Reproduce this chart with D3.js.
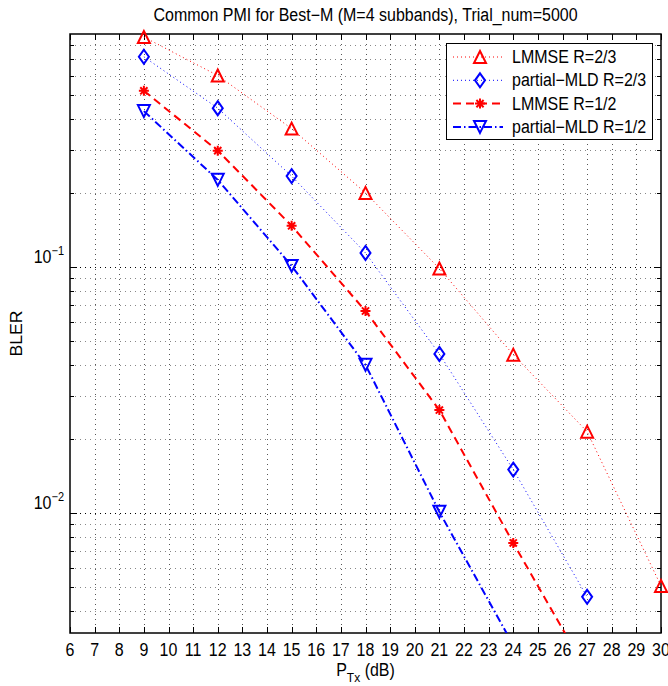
<!DOCTYPE html>
<html lang="en">
<head>
  <meta charset="UTF-8">
  <title>BLER vs PTx</title>
  <style>
    body { margin: 0; background: #fff; }
    svg text { font-family: "Liberation Sans", Arial, sans-serif; }
  </style>
</head>
<body>
  <div id="svg"></div>
</body>
<script src="https://cdn.jsdelivr.net/npm/d3@7"></script>
<script type="text/javascript">
  // 数据（从图上读出来的）
  const snr = [9, 12, 15, 18, 21, 24, 27, 30]
  const lmmse23 = [0.86, 0.60, 0.365, 0.200, 0.0985, 0.0440, 0.0214, 0.00505]
  const pmld23 = [0.715, 0.442, 0.234, 0.114, 0.0443, 0.0150, 0.00456]
  const lmmse12 = [0.52, 0.297, 0.147, 0.0662, 0.0262, 0.00755, 0.00226]
  const pmld12 = [0.430, 0.226, 0.101, 0.040, 0.0101, 0.0029]
  const xTicks = d3.range(6, 31)
  const yMajor = [0.01, 0.1]
  const seriesNames = ["LMMSE R=2/3", "partial\u2212MLD R=2/3", "LMMSE R=1/2", "partial\u2212MLD R=1/2"]

  const width = 668
  const height = 686
  const plot = {left: 70, right: 661, top: 34, bottom: 633}
  const fs = 16      // 字号
  const sy = 1.1     // 文字竖向拉伸

  const svg = d3.select("#svg").append("svg").attr("width", width).attr("height", height)

  // 比例尺
  const xScale = d3.scaleLinear().domain([6, 30]).range([plot.left, plot.right])
  const yScale = d3.scaleLog().domain([0.00325, 0.885]).range([plot.bottom, plot.top])

  // 次刻度
  const yMinor = []
  ;[0.001, 0.01, 0.1].forEach(base => {
    for (let k = 2; k <= 9; k++) {
      const v = base * k
      if (v > yScale.domain()[0] && v < yScale.domain()[1]) yMinor.push(v)
    }
  })

  // 网格
  const grid = svg.append("g")
  grid.selectAll(".gx").data(xTicks.slice(1, -1)).enter().append("line")
    .attr("x1", d => Math.round(xScale(d)) + 0.5).attr("x2", d => Math.round(xScale(d)) + 0.5)
    .attr("y1", plot.top).attr("y2", plot.bottom)
    .attr("stroke", "#555").attr("stroke-width", 1).attr("stroke-dasharray", "1,4")
  grid.selectAll(".gy").data(yMinor).enter().append("line")
    .attr("y1", d => Math.round(yScale(d)) + 0.5).attr("y2", d => Math.round(yScale(d)) + 0.5)
    .attr("x1", plot.left).attr("x2", plot.right)
    .attr("stroke", "#888").attr("stroke-width", 1).attr("stroke-dasharray", "1,4")
  grid.selectAll(".gY").data(yMajor).enter().append("line")
    .attr("y1", d => Math.round(yScale(d)) + 0.5).attr("y2", d => Math.round(yScale(d)) + 0.5)
    .attr("x1", plot.left).attr("x2", plot.right)
    .attr("stroke", "#000").attr("stroke-width", 1).attr("stroke-dasharray", "1,4")

  // 刻度线（四周）
  const ticks = svg.append("g").attr("stroke", "#000").attr("stroke-width", 1)
  xTicks.forEach(d => {
    const x = Math.round(xScale(d)) + 0.5
    ticks.append("line").attr("x1", x).attr("x2", x).attr("y1", plot.bottom).attr("y2", plot.bottom - 6)
    ticks.append("line").attr("x1", x).attr("x2", x).attr("y1", plot.top).attr("y2", plot.top + 6)
  })
  yMajor.concat(yMinor).forEach(d => {
    const y = Math.round(yScale(d)) + 0.5
    const len = yMajor.includes(d) ? 7 : 4
    ticks.append("line").attr("x1", plot.left).attr("x2", plot.left + len).attr("y1", y).attr("y2", y)
    ticks.append("line").attr("x1", plot.right).attr("x2", plot.right - len).attr("y1", y).attr("y2", y)
  })

  // 坐标轴框
  svg.append("rect").attr("x", plot.left).attr("y", plot.top)
    .attr("width", plot.right - plot.left).attr("height", plot.bottom - plot.top)
    .attr("fill", "none").attr("stroke", "#000").attr("stroke-width", 1.5)

  // 刻度文字
  svg.selectAll(".xl").data(xTicks).enter().append("text")
    .attr("transform", d => `translate(${xScale(d)},${plot.bottom + 23}) scale(1,${sy})`)
    .attr("text-anchor", "middle").attr("font-size", fs + "px").text(d => d)

  const yl = svg.selectAll(".yl").data(yMajor).enter().append("text")
    .attr("transform", d => `translate(64,${yScale(d) - 4}) scale(1,${sy})`)
    .attr("text-anchor", "end").attr("font-size", fs + "px")
  yl.append("tspan").text("10")
  yl.append("tspan").attr("dy", -7).attr("font-size", "11px").text(d => "\u2212" + Math.round(-Math.log10(d)))

  // 标题和轴标签
  svg.append("text").attr("transform", `translate(${(plot.left + plot.right) / 2},21) scale(1,${sy})`)
    .attr("text-anchor", "middle").attr("font-size", fs + "px")
    .text("Common PMI for Best\u2212M (M=4 subbands), Trial_num=5000")

  const xl = svg.append("text").attr("transform", `translate(${(plot.left + plot.right) / 2},676) scale(1,${sy})`)
    .attr("text-anchor", "middle").attr("font-size", fs + "px")
  xl.append("tspan").text("P")
  xl.append("tspan").attr("dy", 5).attr("font-size", "12px").text("Tx")
  xl.append("tspan").attr("dy", -5).text(" (dB)")

  svg.append("text").attr("transform", `translate(22,${(plot.top + plot.bottom) / 2}) rotate(-90) scale(${sy},1)`)
    .attr("text-anchor", "middle").attr("font-size", fs + "px").text("BLER")

  // 曲线
  svg.append("clipPath").attr("id", "clip").append("rect")
    .attr("x", plot.left).attr("y", plot.top)
    .attr("width", plot.right - plot.left).attr("height", plot.bottom - plot.top)

  const styles = [
    {color: "#ff0000", dash: "1,3", width: 1, marker: "tri"},
    {color: "#0000ff", dash: "1,3", width: 1, marker: "dia"},
    {color: "#ff0000", dash: "8,5", width: 2, marker: "ast"},
    {color: "#0000ff", dash: "8,3,1.5,3", width: 2, marker: "tridown"}
  ]
  const allSeries = [lmmse23, pmld23, lmmse12, pmld12]

  const line = d3.line().x(d => xScale(d[0])).y(d => yScale(d[1]))

  const drawMarker = (g, type, color) => {
    const s = 6
    if (type === "tri") {
      g.append("path").attr("d", `M0,${-s}L${s},${s}L${-s},${s}Z`)
    } else if (type === "tridown") {
      g.append("path").attr("d", `M0,${s}L${s},${-s}L${-s},${-s}Z`)
    } else if (type === "dia") {
      g.append("path").attr("d", `M0,${-7}L5,0L0,7L-5,0Z`)
    } else {
      g.append("path").attr("d", "M0,-5V5M-5,0H5M-3.6,-3.6L3.6,3.6M-3.6,3.6L3.6,-3.6")
    }
    g.selectAll("path").attr("fill", "none").attr("stroke", color).attr("stroke-width", 2)
  }

  allSeries.forEach((vals, i) => {
    const pts = vals.map((v, j) => [snr[j], v])
    const st = styles[i]
    svg.append("path").datum(pts).attr("clip-path", "url(#clip)")
      .attr("d", line).attr("fill", "none")
      .attr("stroke", st.color).attr("stroke-width", st.width).attr("stroke-dasharray", st.dash)
    pts.filter(p => p[1] >= yScale.domain()[0]).forEach(p => {
      const g = svg.append("g").attr("transform", `translate(${xScale(p[0])},${yScale(p[1])})`)
      drawMarker(g, st.marker, st.color)
    })
  })

  // 图例
  const legend = svg.append("g")
  legend.append("rect").attr("x", 446.5).attr("y", 43.5).attr("width", 206).attr("height", 96)
    .attr("fill", "#fff").attr("stroke", "#000").attr("stroke-width", 1)
  seriesNames.forEach((name, i) => {
    const y = 57 + i * 23.3
    const st = styles[i]
    legend.append("line").attr("x1", 453).attr("x2", 503).attr("y1", y).attr("y2", y)
      .attr("stroke", st.color).attr("stroke-width", st.width).attr("stroke-dasharray", st.dash)
    drawMarker(legend.append("g").attr("transform", `translate(480,${y})`), st.marker, st.color)
    legend.append("text").attr("transform", `translate(512,${y + 6}) scale(1,${sy})`)
      .attr("font-size", fs + "px").text(name)
  })
</script>
</html>
